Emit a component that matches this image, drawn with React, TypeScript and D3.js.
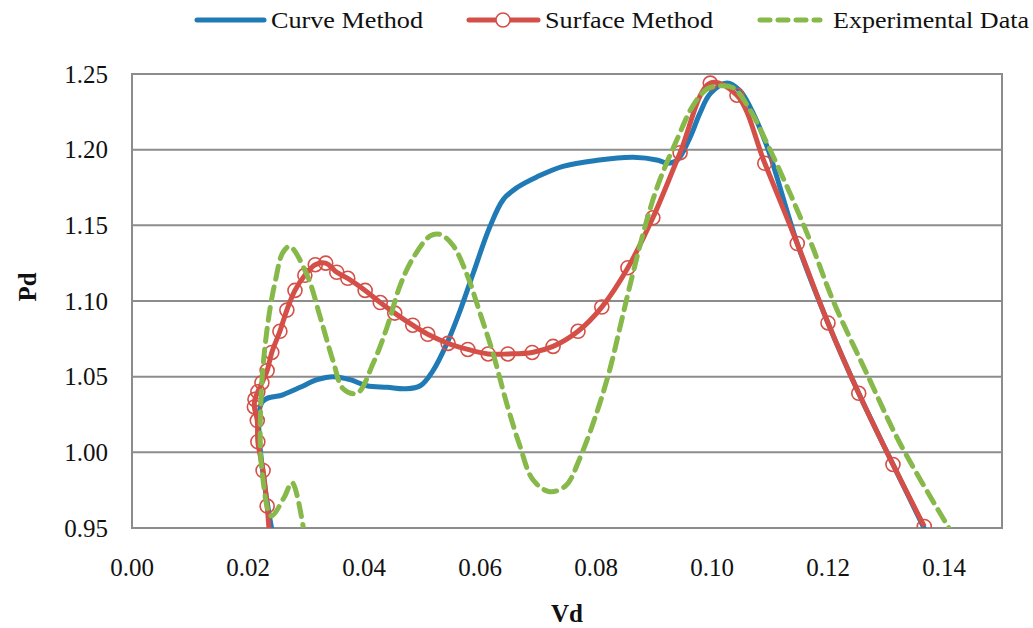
import React from "react";
import * as d3 from "d3";

// x = Vd, y = Pd
const curveVd = [0.0243, 0.0224, 0.026, 0.029, 0.0319, 0.0347, 0.0376, 0.0405, 0.044, 0.0471, 0.0497, 0.0519, 0.0543, 0.0566, 0.0588, 0.0617, 0.064, 0.0664, 0.0698, 0.0743, 0.0802, 0.0864, 0.0907, 0.0922, 0.094, 0.0962, 0.0979, 0.0997, 0.1026, 0.1048, 0.1066, 0.1095, 0.1147, 0.12, 0.1253, 0.1312, 0.1368];
const curvePd = [0.945, 1.033, 1.038, 1.043, 1.048, 1.05, 1.048, 1.044, 1.043, 1.042, 1.044, 1.054, 1.072, 1.094, 1.118, 1.149, 1.167, 1.175, 1.182, 1.189, 1.193, 1.195, 1.193, 1.191, 1.193, 1.208, 1.224, 1.237, 1.244, 1.239, 1.228, 1.202, 1.138, 1.0855, 1.039, 0.992, 0.948];

const surfaceVd = [0.0238, 0.0233, 0.0226, 0.0217, 0.0216, 0.0211, 0.0212, 0.0217, 0.0224, 0.0233, 0.0241, 0.0255, 0.0267, 0.0281, 0.0298, 0.0316, 0.0334, 0.0353, 0.0372, 0.0402, 0.0428, 0.0453, 0.0484, 0.051, 0.0545, 0.0579, 0.0614, 0.0648, 0.069, 0.0726, 0.0769, 0.081, 0.0855, 0.0898, 0.0945, 0.0997, 0.1043, 0.1091, 0.1147, 0.12, 0.1253, 0.1312, 0.1366];
const surfacePd = [0.94, 0.9645, 0.988, 1.007, 1.021, 1.03, 1.035, 1.04, 1.046, 1.054, 1.066, 1.08, 1.094, 1.107, 1.117, 1.124, 1.125, 1.119, 1.115, 1.107, 1.099, 1.092, 1.084, 1.078, 1.072, 1.068, 1.065, 1.065, 1.066, 1.07, 1.08, 1.096, 1.122, 1.155, 1.198, 1.244, 1.236, 1.191, 1.138, 1.0855, 1.039, 0.992, 0.951];

const expVd = [0.0298, 0.0276, 0.0262, 0.024, 0.0224, 0.0221, 0.0222, 0.0224, 0.0229, 0.0238, 0.0247, 0.026, 0.0272, 0.0302, 0.0324, 0.0347, 0.0364, 0.0388, 0.0416, 0.044, 0.0462, 0.0484, 0.0514, 0.0531, 0.0553, 0.0578, 0.06, 0.0622, 0.0647, 0.0669, 0.0691, 0.072, 0.0748, 0.0772, 0.0802, 0.0824, 0.0841, 0.0859, 0.0888, 0.091, 0.094, 0.0967, 0.0991, 0.1009, 0.1036, 0.1066, 0.1095, 0.113, 0.1169, 0.1209, 0.1267, 0.1324, 0.141];
const expPd = [0.944, 0.98, 0.97, 0.958, 0.988, 1.01, 1.03, 1.047, 1.069, 1.095, 1.113, 1.132, 1.136, 1.117, 1.09, 1.06, 1.042, 1.039, 1.059, 1.083, 1.11, 1.128, 1.143, 1.144, 1.137, 1.117, 1.092, 1.066, 1.031, 1.004, 0.982, 0.974, 0.978, 0.996, 1.027, 1.055, 1.082, 1.111, 1.154, 1.18, 1.207, 1.229, 1.24, 1.242, 1.241, 1.226, 1.204, 1.175, 1.14, 1.1, 1.052, 1.006, 0.949];

const xTicks = [0, 0.02, 0.04, 0.06, 0.08, 0.1, 0.12, 0.14];
const yTicks = [0.95, 1.0, 1.05, 1.1, 1.15, 1.2, 1.25];

const BLUE = "#1f7ab5";
const RED = "#d44f47";
const GREEN = "#86b84a";
const GRID = "#8c8c8c";
const FONT = "Liberation Serif, Times New Roman, DejaVu Serif, serif";

const zip = (xs: number[], ys: number[]) => xs.map((x, i) => [x, ys[i]] as [number, number]);

export default function App() {
  const x = d3.scaleLinear().domain([0, 0.15]).range([132, 1002]);
  const y = d3.scaleLinear().domain([0.95, 1.25]).range([528, 74]);

  const line = d3
    .line<[number, number]>()
    .x((d) => x(d[0]))
    .y((d) => y(d[1]))
    .curve(d3.curveCatmullRom.alpha(0.5));

  const curvePts = zip(curveVd, curvePd);
  const surfacePts = zip(surfaceVd, surfacePd);
  const expPts = zip(expVd, expPd);

  const [x0, x1] = x.range();
  const [yb, yt] = y.range();
  const txt = { fontFamily: FONT, fill: "#111" };

  return (
    <svg
      width={1033}
      height={628}
      style={{ position: "absolute", left: 0, top: 0, background: "#fff" }}
    >
      <defs>
        <clipPath id="plot">
          <rect x={x0} y={yt} width={x1 - x0} height={yb - yt} />
        </clipPath>
      </defs>

      {/* gridlines */}
      {yTicks.map((t) => (
        <line key={t} x1={x0} x2={x1} y1={y(t)} y2={y(t)} stroke={GRID} strokeWidth={2} />
      ))}
      <rect x={x0} y={yt} width={x1 - x0} height={yb - yt} fill="none" stroke={GRID} strokeWidth={2} />

      {/* tick labels */}
      {yTicks.map((t) => (
        <text key={t} x={108} y={y(t)} dy="0.35em" textAnchor="end" fontSize={25} style={txt}>
          {t.toFixed(2)}
        </text>
      ))}
      {xTicks.map((t) => (
        <text key={t} x={x(t)} y={576} textAnchor="middle" fontSize={25} style={txt}>
          {t.toFixed(2)}
        </text>
      ))}

      {/* axis titles */}
      <text x={567} y={622} textAnchor="middle" fontSize={25} fontWeight="bold" style={txt}>
        Vd
      </text>
      <text
        transform="translate(36,287) rotate(-90)"
        textAnchor="middle"
        fontSize={25}
        fontWeight="bold"
        style={txt}
      >
        Pd
      </text>

      {/* series */}
      <g clipPath="url(#plot)">
        <path d={line(curvePts) ?? ""} fill="none" stroke={BLUE} strokeWidth={5} strokeLinejoin="round" />
        <path d={line(surfacePts) ?? ""} fill="none" stroke={RED} strokeWidth={5} strokeLinejoin="round" />
        {surfacePts.map((d, i) => (
          <circle key={i} cx={x(d[0])} cy={y(d[1])} r={7} fill="none" stroke={RED} strokeWidth={1.6} />
        ))}
        <path
          d={line(expPts) ?? ""}
          fill="none"
          stroke={GREEN}
          strokeWidth={5}
          strokeDasharray="13 8"
          strokeLinecap="round"
        />
      </g>

      {/* legend */}
      <g fontSize={23}>
        <line x1={197} x2={264} y1={20} y2={20} stroke={BLUE} strokeWidth={5} strokeLinecap="round" />
        <text x={271} y={28} textLength={152} lengthAdjust="spacingAndGlyphs" style={txt}>Curve Method</text>
        <line x1={469} x2={538} y1={20} y2={20} stroke={RED} strokeWidth={5} strokeLinecap="round" />
        <circle cx={503} cy={20} r={7} fill="#fff" stroke={RED} strokeWidth={1.6} />
        <text x={545} y={28} textLength={168} lengthAdjust="spacingAndGlyphs" style={txt}>Surface Method</text>
        <line x1={760} x2={820} y1={20} y2={20} stroke={GREEN} strokeWidth={5} strokeDasharray="10 8" strokeLinecap="round" />
        <text x={833} y={28} textLength={196} lengthAdjust="spacingAndGlyphs" style={txt}>Experimental Data</text>
      </g>
    </svg>
  );
}
